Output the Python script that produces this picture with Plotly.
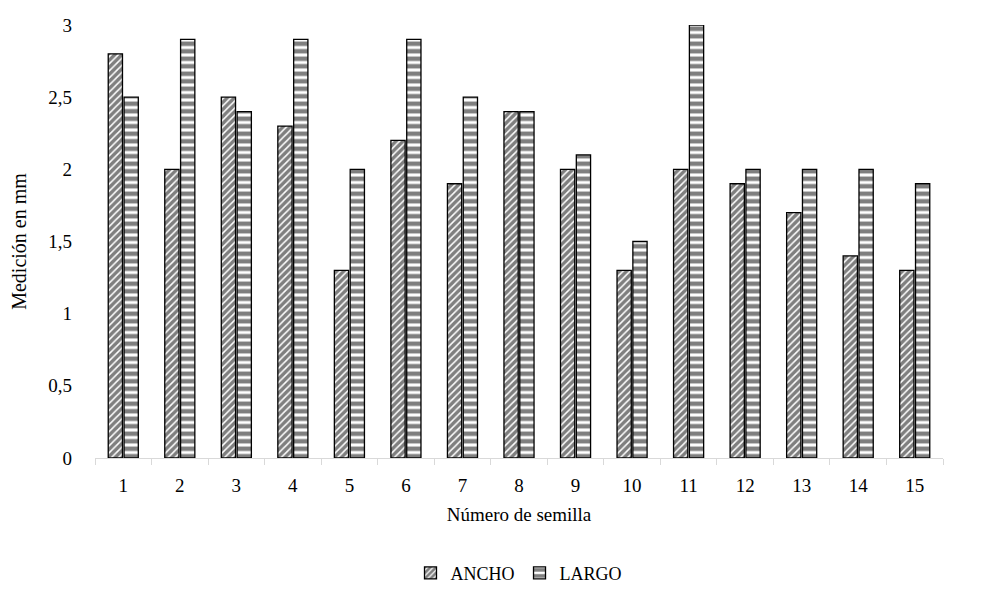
import plotly.graph_objects as go

categorias = [str(i) for i in range(1, 16)]
ancho = [2.8, 2.0, 2.5, 2.3, 1.3, 2.2, 1.9, 2.4, 2.0, 1.3, 2.0, 1.9, 1.7, 1.4, 1.3]
largo = [2.5, 2.9, 2.4, 2.9, 2.0, 2.9, 2.5, 2.4, 2.1, 1.5, 3.0, 2.0, 2.0, 2.0, 1.9]
y_ticks = [0, 0.5, 1, 1.5, 2, 2.5, 3]
y_labels = ["0", "0,5", "1", "1,5", "2", "2,5", "3"]

font = "Liberation Serif, Times New Roman, serif"

fig = go.Figure()
fig.add_trace(go.Bar(
    x=categorias, y=ancho, name="ANCHO",
    marker=dict(color="white", line=dict(color="black", width=1.3),
                pattern=dict(shape="/", fgcolor="black", bgcolor="white", size=5, solidity=0.7)),
))
fig.add_trace(go.Bar(
    x=categorias, y=largo, name="LARGO",
    marker=dict(color="white", line=dict(color="black", width=1.3),
                pattern=dict(shape="-", fgcolor="black", bgcolor="white", size=7.5, solidity=0.6)),
))

fig.update_layout(
    width=982, height=599,
    margin=dict(l=87, r=47, t=17, b=149, autoexpand=False),
    paper_bgcolor="white", plot_bgcolor="white",
    barmode="group", bargap=0.44, bargroupgap=0.1,
    font=dict(family=font, size=19, color="black"),
    legend=dict(orientation="h", x=0.5, xanchor="center", y=-0.266, yanchor="middle",
                font=dict(size=18), itemwidth=30),
    xaxis=dict(
        title=dict(text="Número de semilla", font=dict(size=19), standoff=12),
        showline=True, linecolor="#d9d9d9", linewidth=1,
        ticks="outside", tickson="boundaries", ticklen=6, tickcolor="#d9d9d9",
        ticklabelstandoff=10,
        showgrid=False, automargin=False,
    ),
    yaxis=dict(
        title=dict(text="Medición en mm", font=dict(size=20), standoff=18),
        range=[0, 3], tickvals=y_ticks, ticktext=y_labels,
        showgrid=False, showline=False, zeroline=False,
        ticks="", ticklabelstandoff=22, automargin=False,
    ),
)

fig.write_html("out.html")
